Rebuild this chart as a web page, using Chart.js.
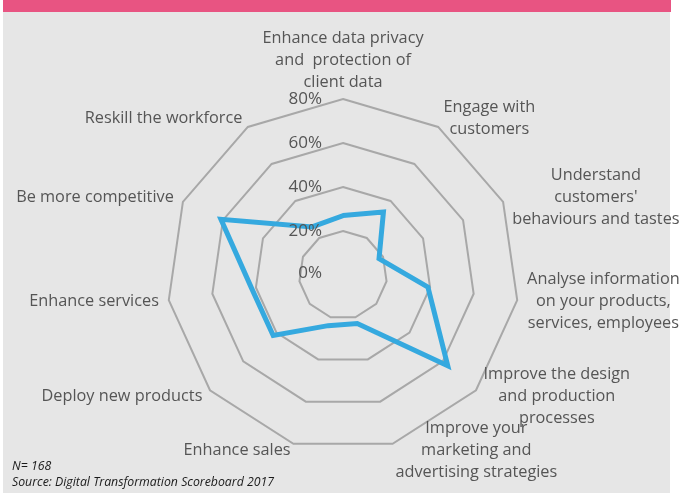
<!DOCTYPE html>
<html>
<head>
<meta charset="utf-8">
<script src="https://cdn.jsdelivr.net/npm/chart.js@4"></script>
<style>
  body { margin: 0; background: #fff; }
  #wrap { position: relative; width: 679px; height: 493px; overflow: hidden; }
  #panel { position: absolute; left: 3px; top: 0; width: 667px; height: 493px; background: #e6e6e6; }
  #bar { position: absolute; left: 3px; top: 0; width: 668px; height: 12px; background: #e85482; }
  canvas { position: absolute; left: 0; top: 0; }
  .note { position: absolute; left: 12px; font: italic 12.3px "Open Sans"; color: #1a1a1a; }
</style>
</head>
<body>
<div id="wrap">
  <div id="panel"></div>
  <div id="bar"></div>
  <canvas id="radarChart" width="679" height="493"></canvas>
  <div class="note" style="top:457px">N= 168</div>
  <div class="note" style="top:473px">Source: Digital Transformation Scoreboard 2017</div>
</div>
<script>
// axis labels, clockwise from the top
const categories = [
  ['Enhance data privacy', 'and  protection of', 'client data'],
  ['Engage with', 'customers'],
  ['Understand', "customers'", 'behaviours and tastes'],
  ['Analyse information', 'on your products,', 'services, employees'],
  ['Improve the design', 'and production', 'processes'],
  ['Improve your', 'marketing and', 'advertising strategies'],
  ['Enhance sales'],
  ['Deploy new products'],
  ['Enhance services'],
  ['Be more competitive'],
  ['Reskill the workforce']
];
const values = [27, 34, 18, 39, 63, 23, 24, 42, 42, 61, 26];
const tickValues = [0, 20, 40, 60, 80];
const tickLabels = ['0%', '20%', '40%', '60%', '80%'];

// draws the category texts and % ticks the way the original does
const axisText = {
  id: 'axisText',
  afterDraw(chart) {
    const scale = chart.scales.r;
    const ctx = chart.ctx;
    const lineH = 22;
    ctx.save();
    ctx.font = '16.3px "Open Sans"';
    ctx.fillStyle = '#555555';
    ctx.textBaseline = 'middle';
    ctx.textAlign = 'center';
    categories.forEach((lines, i) => {
      const p = scale.getPointPosition(i, scale.drawingArea + 10);
      const w = Math.max(...lines.map(l => ctx.measureText(l).width));
      const h = lines.length * lineH;
      const dx = p.x - scale.xCenter;
      let cx = p.x;
      if (dx > 1) cx = p.x + w / 2;
      else if (dx < -1) cx = p.x - w / 2;
      let top = i === 0 ? p.y - h + 4 : p.y - h / 2;
      if (i === 5 || i === 6) top -= 3;
      lines.forEach((l, j) => ctx.fillText(l, cx, top + lineH * (j + 0.5)));
    });
    ctx.font = '17px "Open Sans"';
    ctx.textAlign = 'right';
    tickValues.forEach((v, i) => {
      const d = scale.getDistanceFromCenterForValue(v);
      ctx.fillText(tickLabels[i], scale.xCenter - 21, scale.yCenter - d - (v === 0 ? 2 : 0));
    });
    ctx.restore();
  }
};

let radarChart = new Chart('radarChart', {
  type: 'radar',
  data: {
    labels: categories.map(c => c.join(' ')),
    datasets: [{
      data: values,
      borderColor: '#35a9df',
      borderWidth: 5,
      borderJoinStyle: 'miter',
      pointRadius: 0,
      fill: false
    }]
  },
  options: {
    responsive: false,
    animation: false,
    layout: { padding: { top: 99, bottom: 42, left: 167, right: 160 } },
    plugins: {
      legend: { display: false },
      tooltip: { enabled: false }
    },
    scales: {
      r: {
        min: 0,
        max: 80,
        ticks: { display: false, stepSize: 20 },
        grid: { color: '#a8a8a8', lineWidth: 2, circular: false },
        angleLines: { display: false },
        pointLabels: { display: false }
      }
    }
  },
  plugins: [axisText]
});
</script>
</body>
</html>
